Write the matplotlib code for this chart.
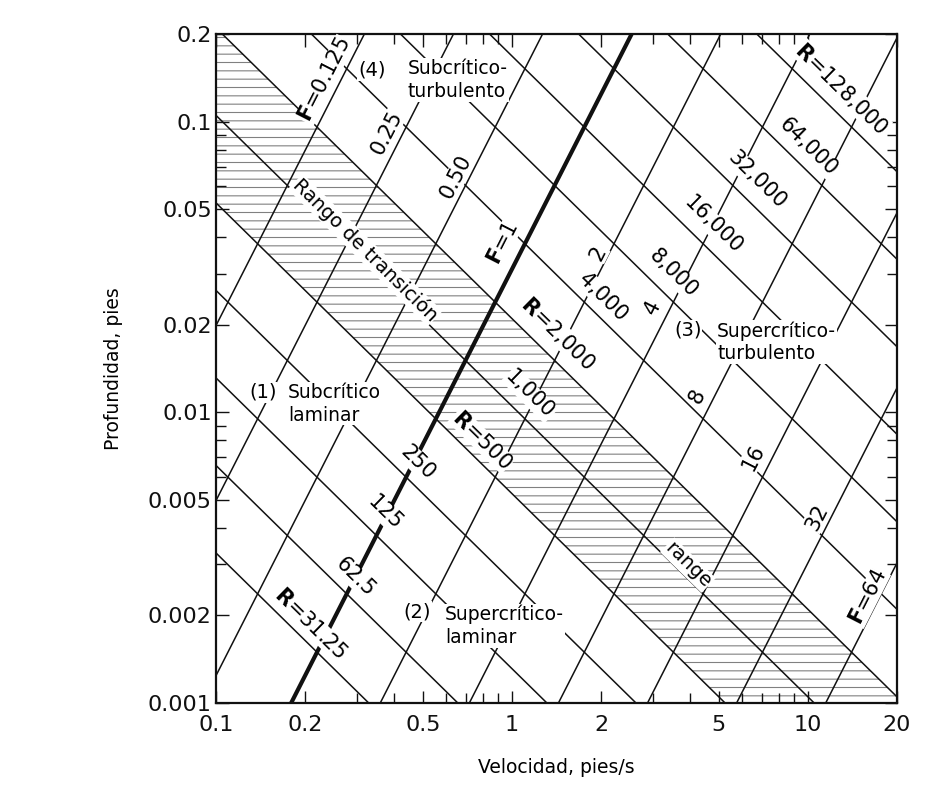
import numpy as np
import matplotlib
matplotlib.use("Agg")
import matplotlib.pyplot as plt
from matplotlib.ticker import FixedLocator, LogLocator, NullFormatter

plt.rcParams['font.family'] = ['DejaVu Sans']
plt.rcParams['hatch.linewidth'] = 0.8

# physical constants used by the chart (ft, s)
g = 32.2
nu = 1.05e-5

# Froude and Reynolds numbers of the drawn lines
froude = [0.125, 0.25, 0.5, 1, 2, 4, 8, 16, 32, 64]
reynolds = [31.25, 62.5, 125, 250, 500, 1000, 2000, 4000, 8000, 16000, 32000, 64000, 128000]
band = (500, 2000)  # transition range

x_ticks = [0.1, 0.2, 0.5, 1, 2, 5, 10, 20]
x_ticklabels = ['0.1', '0.2', '0.5', '1', '2', '5', '10', '20']
y_ticks = [0.001, 0.002, 0.005, 0.01, 0.02, 0.05, 0.1, 0.2]
y_ticklabels = ['0.001', '0.002', '0.005', '0.01', '0.02', '0.05', '0.1', '0.2']

# labels for the lines (text, V, depth)
r_labels = [
    (r'$\mathbf{R}$=128,000', 13.0, 0.130),
    ('64,000', 10.0, 0.0817),
    ('32,000', 6.72, 0.0629),
    ('16,000', 4.78, 0.0441),
    ('8,000', 3.50, 0.0301),
    ('4,000', 2.03, 0.0249),
    (r'$\mathbf{R}$=2,000', 1.43, 0.0187),
    ('1,000', 1.15, 0.0115),
    (r'$\mathbf{R}$=500', 0.79, 0.0080),
    ('250', 0.481, 0.0067),
    ('125', 0.372, 0.0045),
    ('62.5', 0.295, 0.00271),
    (r'$\mathbf{R}$=31.25', 0.208, 0.00188),
]
f_labels = [
    (r'$\mathbf{F}$=0.125', 0.2335, 0.139),
    ('0.25', 0.378, 0.0913),
    ('0.50', 0.647, 0.0644),
    (r'$\mathbf{F}$=1', 0.932, 0.0382),
    ('2', 1.95, 0.0353),
    ('4', 2.99, 0.0230),
    ('8', 4.22, 0.0113),
    ('16', 6.52, 0.0070),
    ('32', 10.7, 0.00436),
    (r'$\mathbf{F}$=64', 15.95, 0.00231),
]
regions = [
    ('(4)', 0.336, 0.150, 'Subcrítico-\nturbulento', 0.445, 0.139),
    ('(3)', 3.93, 0.0192, 'Supercrítico-\nturbulento', 4.93, 0.0174),
    ('(1)', 0.144, 0.0117, 'Subcrítico\nlaminar', 0.175, 0.0107),
    ('(2)', 0.478, 0.00206, 'Supercrítico-\nlaminar', 0.594, 0.00184),
]

fig = plt.figure(figsize=(9.47, 7.89), dpi=100)
ax = fig.add_axes([0.2281, 0.1090, 0.7191, 0.8479])
ax.set_xscale('log')
ax.set_yscale('log')
ax.set_xlim(0.1, 20)
ax.set_ylim(0.001, 0.2)

v_ends = np.array([0.1, 20.0])


def depth_f(v, f):
    return v ** 2 / (g * f ** 2)


def depth_r(v, r):
    return r * nu / v


# transition band
ax.fill_between(v_ends, depth_r(v_ends, band[0]), depth_r(v_ends, band[1]),
                facecolor='none', edgecolor='#808080', hatch='--', linewidth=0, zorder=1)

for r in reynolds:
    ax.plot(v_ends, depth_r(v_ends, r), color='#111111', lw=1.1, zorder=2)
for f in froude:
    ax.plot(v_ends, depth_f(v_ends, f), color='#111111', lw=3.0 if f == 1 else 1.1, zorder=2)


def line_angle(fn, v):
    p = ax.transData.transform([(v, fn(v)), (v * 1.5, fn(v * 1.5))])
    return np.degrees(np.arctan2(p[1, 1] - p[0, 1], p[1, 0] - p[0, 0]))


ang_r = line_angle(lambda v: depth_r(v, 1000), 1.0)
ang_f = line_angle(lambda v: depth_f(v, 1), 1.0)

box = dict(facecolor='white', edgecolor='none', pad=0.5)
for txt, v, d in r_labels:
    ax.text(v, d, txt, rotation=ang_r, rotation_mode='anchor', ha='center', va='center',
            fontsize=15, bbox=box, zorder=4)
for txt, v, d in f_labels:
    ax.text(v, d, txt, rotation=ang_f, rotation_mode='anchor', ha='center', va='center',
            fontsize=15, bbox=box, zorder=4)

for num, nv, nd, txt, tv, td in regions:
    ax.text(nv, nd, num, ha='center', va='center', fontsize=14, bbox=box, zorder=4)
    ax.text(tv, td, txt, ha='left', va='center', fontsize=13.5, linespacing=1.25,
            bbox=box, zorder=4)

ax.text(0.319, 0.0361, 'Rango de transición', rotation=ang_r, rotation_mode='anchor',
        ha='center', va='center', fontsize=14, bbox=box, zorder=4)
ax.text(3.93, 0.00298, 'range', rotation=ang_r, rotation_mode='anchor',
        ha='center', va='center', fontsize=14, bbox=box, zorder=4)

# axes, ticks
ax.xaxis.set_major_locator(FixedLocator(x_ticks))
ax.xaxis.set_minor_locator(LogLocator(subs=[3, 4, 6, 7, 8, 9]))
ax.xaxis.set_minor_formatter(NullFormatter())
ax.set_xticklabels(x_ticklabels)
ax.yaxis.set_major_locator(FixedLocator(y_ticks))
ax.yaxis.set_minor_locator(LogLocator(subs=[3, 4, 6, 7, 8, 9]))
ax.yaxis.set_minor_formatter(NullFormatter())
ax.set_yticklabels(y_ticklabels)

ax.tick_params(which='both', direction='in', top=True, right=True, width=1.0, colors='#111111')
ax.tick_params(which='major', length=9, labelsize=16)
ax.tick_params(which='minor', length=7)
ax.tick_params(axis='x', which='major', pad=9)
ax.tick_params(axis='y', which='major', pad=3)
for s in ax.spines.values():
    s.set_linewidth(1.6)
    s.set_color('#111111')

ax.set_xlabel('Velocidad, pies/s', fontsize=13.5, labelpad=16)
ax.set_ylabel('Profundidad, pies', fontsize=13.5, labelpad=18)

fig.savefig('out.png', dpi=100)
